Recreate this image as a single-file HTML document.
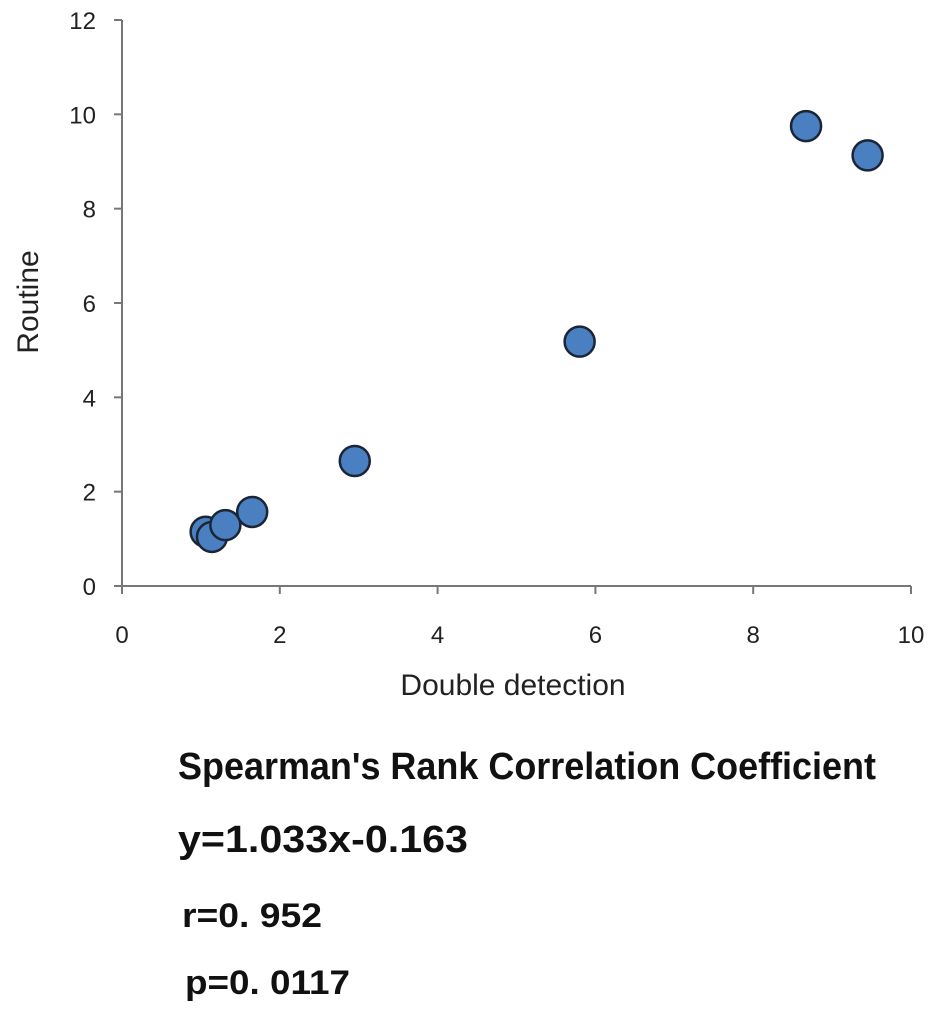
<!DOCTYPE html>
<html><head><meta charset="utf-8"><style>
body{margin:0;background:#fff;width:945px;height:1012px;overflow:hidden}
text{font-family:"Liberation Sans",sans-serif;fill:#222}
.st{font-family:"Liberation Sans Narrow","Liberation Sans",sans-serif;font-weight:bold;fill:#111}
</style></head><body>
<svg id="chart" width="945" height="1012">
<g id="axes"></g>
<g id="pts"></g>
<text x="513" y="695" font-size="30" text-anchor="middle">Double detection</text>
<text transform="translate(38,302) rotate(-90)" font-size="30" text-anchor="middle">Routine</text>
<text class="st" x="178" y="779" font-size="38" textLength="698" lengthAdjust="spacingAndGlyphs">Spearman's Rank Correlation Coefficient</text>
<text class="st" x="178" y="852" font-size="38" textLength="290" lengthAdjust="spacingAndGlyphs">y=1.033x-0.163</text>
<text class="st" x="182" y="927" font-size="34" textLength="140" lengthAdjust="spacingAndGlyphs">r=0. 952</text>
<text class="st" x="185" y="994" font-size="34" textLength="165" lengthAdjust="spacingAndGlyphs">p=0. 0117</text>
</svg>
<script>
const xVals=[1.06,1.14,1.31,1.65,2.95,5.8,8.67,9.45];
const yVals=[1.15,1.04,1.29,1.57,2.65,5.18,9.75,9.13];
const xTicks=[0,2,4,6,8,10];
const yTicks=[0,2,4,6,8,10,12];
const NS="http://www.w3.org/2000/svg";
const X0=122,X1=911,Y0=586,Y1=20;
const sx=v=>X0+(v-0)/10*(X1-X0);
const sy=v=>Y0-(v-0)/12*(Y0-Y1);
function mk(t,a,p){const e=document.createElementNS(NS,t);for(const k in a)e.setAttribute(k,a[k]);p.appendChild(e);return e;}
const ax=document.getElementById('axes');
let l=mk('line',{x1:X0,y1:Y1,x2:X0,y2:Y0,stroke:'#777','stroke-width':2},ax);


l=mk('line',{x1:X0,y1:Y0,x2:X1,y2:Y0,stroke:'#777','stroke-width':2},ax);


xTicks.forEach(v=>{
 const t=mk('line',{x1:sx(v),y1:Y0,x2:sx(v),y2:Y0+8,stroke:'#777','stroke-width':2},ax);
 
 
 const tx=mk('text',{x:sx(v),y:Y0+57,'font-size':24,'text-anchor':'middle'},ax);tx.textContent=v;
 
 
});
yTicks.forEach(v=>{
 const t=mk('line',{x1:X0-8,y1:sy(v),x2:X0,y2:sy(v),stroke:'#777','stroke-width':2},ax);
 
 
 const tx=mk('text',{x:X0-26,y:sy(v)+9,'font-size':24,'text-anchor':'end'},ax);tx.textContent=v;
 
 
});
const pg=document.getElementById('pts');
xVals.forEach((v,i)=>{
 const c=mk('circle',{cx:sx(v),cy:sy(yVals[i]),r:15,fill:'#4a7fc1',stroke:'#1a2535','stroke-width':2.5},pg);
 
 
});
</script>
</body></html>
